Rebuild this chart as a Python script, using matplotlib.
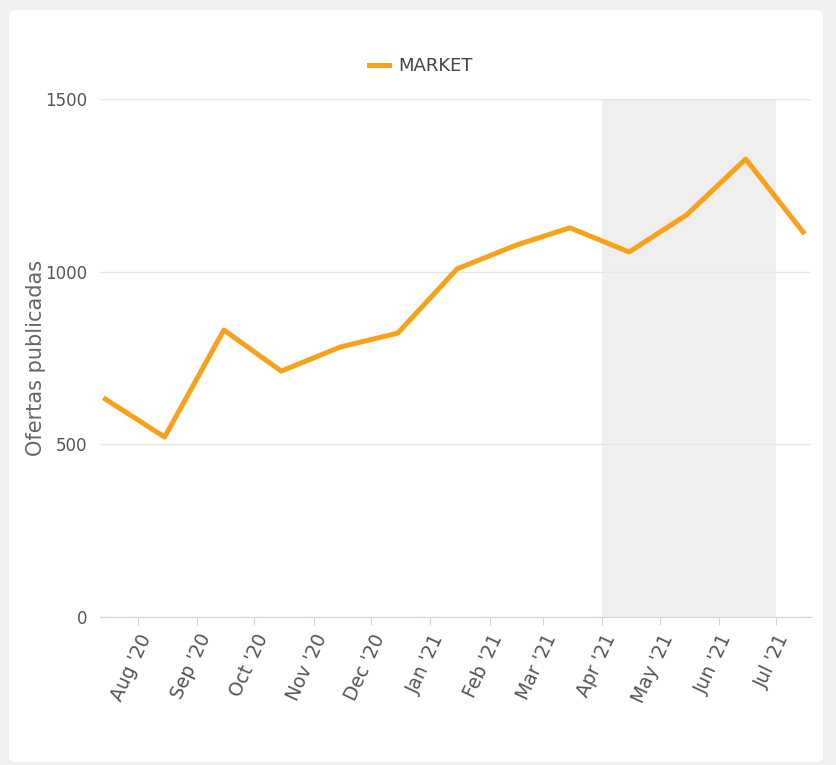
import numpy as np
import matplotlib
matplotlib.use('Agg')
import matplotlib.pyplot as plt
from matplotlib.patches import FancyBboxPatch
from datetime import datetime

# Monthly published offers
months = ['2020-07-15', '2020-08-15', '2020-09-15', '2020-10-15', '2020-11-15',
          '2020-12-15', '2021-01-15', '2021-02-15', '2021-03-15', '2021-04-15',
          '2021-05-15', '2021-06-15', '2021-07-15']
market = [631, 521, 831, 712, 782, 822, 1008, 1077, 1127, 1057, 1164, 1326, 1115]

tick_months = ['2020-08-01', '2020-09-01', '2020-10-01', '2020-11-01', '2020-12-01',
               '2021-01-01', '2021-02-01', '2021-03-01', '2021-04-01', '2021-05-01',
               '2021-06-01', '2021-07-01']
tick_labels = ["Aug '20", "Sep '20", "Oct '20", "Nov '20", "Dec '20", "Jan '21",
               "Feb '21", "Mar '21", "Apr '21", "May '21", "Jun '21", "Jul '21"]

band_start, band_end = '2021-04-01', '2021-07-01'

to_dt = lambda s: datetime.strptime(s, '%Y-%m-%d')
x = [to_dt(m) for m in months]
ticks = [to_dt(m) for m in tick_months]

W, H = 837, 765
fig = plt.figure(figsize=(W / 100, H / 100), dpi=100, facecolor='#efefef')

# white card behind the chart
card = FancyBboxPatch((9 / W, 3 / H), 814 / W, 752 / H,
                      boxstyle='round,pad=0,rounding_size=0.008',
                      transform=fig.transFigure, facecolor='white',
                      edgecolor='none', zorder=-5)
fig.patches.append(card)

ax = fig.add_axes([99.6 / W, (H - 617) / H, (810.7 - 99.6) / W, (617 - 99) / H])
ax.set_facecolor('none')

ax.axvspan(to_dt(band_start), to_dt(band_end), color='#efefef', zorder=0, lw=0)
ax.plot(x, market, color='#f9a11b', lw=3.6, label='MARKET', zorder=3)

ax.set_xlim(to_dt('2020-07-12'), to_dt('2021-07-19'))
ax.set_ylim(0, 1500)
ax.set_yticks([0, 500, 1000, 1500])
ax.grid(axis='y', color='#e6e6e6', lw=1)
ax.set_axisbelow(True)

for s in ['top', 'right', 'left']:
    ax.spines[s].set_visible(False)
ax.spines['bottom'].set_color('#ccd6eb')

ax.set_xticks(ticks)
ax.set_xticklabels(tick_labels, rotation=65, ha='right', rotation_mode='anchor')
ax.tick_params(axis='x', colors='#ccd6eb', length=6, labelcolor='#555555',
               labelsize=13.5, pad=4)
ax.tick_params(axis='y', length=0, labelcolor='#555555', labelsize=12, pad=9)

ax.set_ylabel('Ofertas publicadas', color='#666666', fontsize=15)
ax.yaxis.set_label_coords(-0.075, 0.5)

leg = fig.legend(loc='center', bbox_to_anchor=(421 / W, 1 - 66 / H), frameon=False,
                 fontsize=13, handlelength=1.1, handletextpad=0.5,
                 handles=ax.get_lines(), labels=['MARKET'])
for t in leg.get_texts():
    t.set_color('#444444')

fig.savefig('out.png', dpi=100, facecolor=fig.get_facecolor())
